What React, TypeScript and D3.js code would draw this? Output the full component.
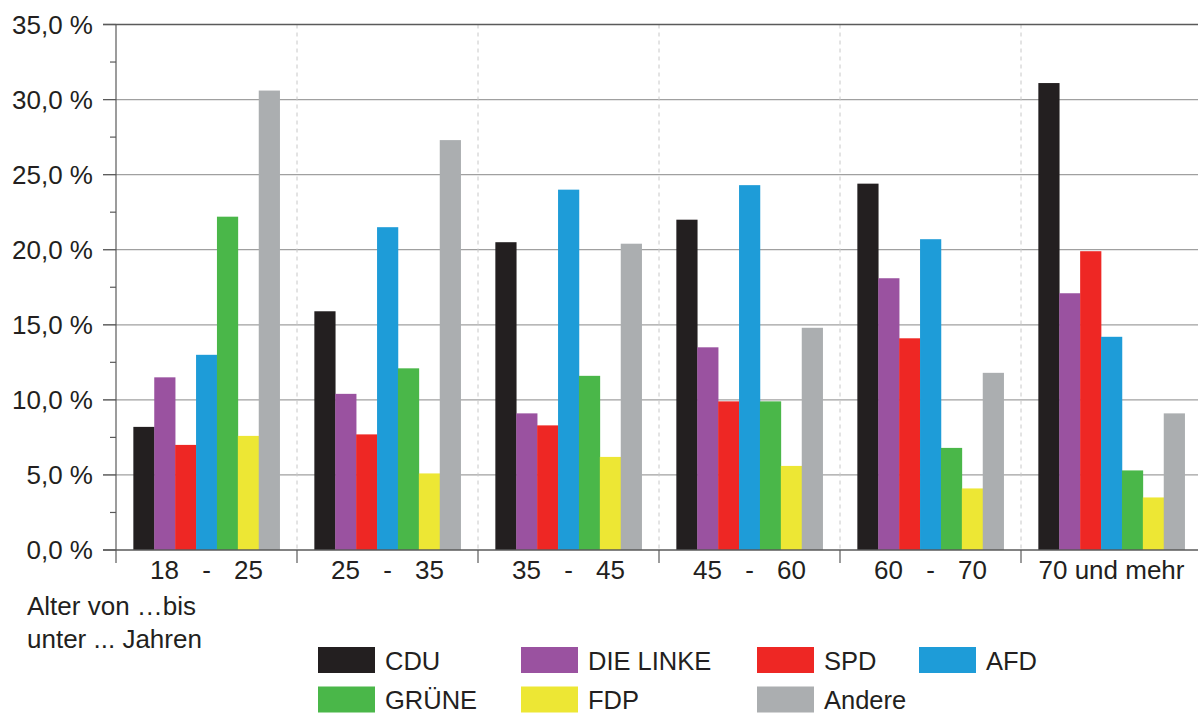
import * as d3 from "d3";

const width = 1198;
const height = 715;
const margin = { top: 24.5, right: 0, bottom: 165, left: 116 };
const plotRight = 1202;

const ageGroups = ["18 - 25", "25 - 35", "35 - 45", "45 - 60", "60 - 70", "70 und mehr"];
const parties = ["CDU", "DIE LINKE", "SPD", "AFD", "GRÜNE", "FDP", "Andere"];
const partyColors = ["#231f20", "#9a52a0", "#ee2724", "#1e9cd8", "#4ab749", "#ede734", "#abaeb0"];

// share per party, one entry per age group
const cdu = [8.2, 15.9, 20.5, 22.0, 24.4, 31.1];
const linke = [11.5, 10.4, 9.1, 13.5, 18.1, 17.1];
const spd = [7.0, 7.7, 8.3, 9.9, 14.1, 19.9];
const afd = [13.0, 21.5, 24.0, 24.3, 20.7, 14.2];
const gruene = [22.2, 12.1, 11.6, 9.9, 6.8, 5.3];
const fdp = [7.6, 5.1, 6.2, 5.6, 4.1, 3.5];
const andere = [30.6, 27.3, 20.4, 14.8, 11.8, 9.1];
const seriesValues = [cdu, linke, spd, afd, gruene, fdp, andere];

const yMajorTicks = [0, 5, 10, 15, 20, 25, 30, 35];
const yMinorTicks = [2.5, 7.5, 12.5, 17.5, 22.5, 27.5, 32.5];
const axisTitle = ["Alter von …bis", "unter ... Jahren"];

const font = "'Liberation Sans', Arial, sans-serif";
const textColor = "#231f20";

const legendCols = [318, 521, 757, 919];
const legendTop = 647;
const legendRowGap = 39.5;

const App = () => {
  const x0 = d3.scaleBand().domain(ageGroups).range([margin.left, plotRight]).padding(0);
  const x1 = d3.scaleBand().domain(parties).range([0, x0.bandwidth()]).paddingInner(0).paddingOuter(0.83);
  const y = d3.scaleLinear().domain([0, 35]).range([height - margin.bottom, margin.top]);
  const y0 = y(0);
  const fmt = (v: number) => d3.format(".1f")(v).replace(".", ",") + " %";

  return (
    <svg width={width} height={height} style={{ position: "absolute", left: 0, top: 0 }} fontFamily={font}>
      <rect width={width} height={height} fill="#fff" />

      {/* horizontal grid */}
      {yMajorTicks.slice(1, -1).map((t) => (
        <line key={t} x1={103} x2={width} y1={y(t)} y2={y(t)} stroke="#a0a0a0" strokeWidth={1.2} />
      ))}

      {/* group separators */}
      {ageGroups.slice(1).map((g) => (
        <line key={g} x1={x0(g)} x2={x0(g)} y1={margin.top} y2={y0} stroke="#c8c8c8" strokeWidth={1} strokeDasharray="4,4" />
      ))}

      {/* bars */}
      {ageGroups.map((g, gi) => (
        <g key={g} transform={`translate(${x0(g)},0)`}>
          {parties.map((p, pi) => {
            const v = seriesValues[pi][gi];
            return (
              <rect key={p} x={x1(p)} y={y(v)} width={x1.bandwidth() + 0.3} height={y0 - y(v)} fill={partyColors[pi]} />
            );
          })}
        </g>
      ))}

      {/* top border */}
      <line x1={103} x2={width} y1={y(35)} y2={y(35)} stroke="#5a5a5a" strokeWidth={1.5} />

      {/* x axis */}
      <line x1={103} x2={width} y1={y0} y2={y0} stroke="#5a5a5a" strokeWidth={1.5} />
      {ageGroups.slice(1).map((g) => (
        <line key={g} x1={x0(g)} x2={x0(g)} y1={y0} y2={y0 + 13} stroke="#5a5a5a" strokeWidth={1.2} />
      ))}
      {ageGroups.map((g) => {
        const cx = x0(g)! + x0.bandwidth() / 2;
        const parts = g.split(" - ");
        if (parts.length === 2) {
          return (
            <g key={g} fontSize={26} fill={textColor} textAnchor="middle">
              <text x={cx - 42} y={579}>{parts[0]}</text>
              <text x={cx} y={579}>-</text>
              <text x={cx + 42} y={579}>{parts[1]}</text>
            </g>
          );
        }
        return (
          <text key={g} x={cx} y={579} fontSize={26} fill={textColor} textAnchor="middle">{g}</text>
        );
      })}

      {/* y axis */}
      <line x1={margin.left} x2={margin.left} y1={margin.top} y2={y0 + 13} stroke="#5a5a5a" strokeWidth={1.2} />
      {yMajorTicks.map((t) => (
        <g key={t}>
          <line x1={103} x2={margin.left} y1={y(t)} y2={y(t)} stroke="#5a5a5a" strokeWidth={1.2} />
          <text x={93} y={y(t)} dy="0.35em" fontSize={26} fill={textColor} textAnchor="end">{fmt(t)}</text>
        </g>
      ))}
      {yMinorTicks.map((t) => (
        <line key={t} x1={110} x2={margin.left} y1={y(t)} y2={y(t)} stroke="#5a5a5a" strokeWidth={1.2} />
      ))}

      {/* axis title */}
      {axisTitle.map((line, i) => (
        <text key={i} x={27} y={615 + i * 33} fontSize={26} fill={textColor}>{line}</text>
      ))}

      {/* legend */}
      {parties.map((p, i) => {
        const lx = legendCols[i % 4];
        const ly = legendTop + Math.floor(i / 4) * legendRowGap;
        return (
          <g key={p}>
            <rect x={lx} y={ly} width={57} height={26} fill={partyColors[i]} />
            <text x={lx + 67} y={ly + 22.5} fontSize={25.5} fill={textColor}>{p}</text>
          </g>
        );
      })}
    </svg>
  );
};

export default App;
